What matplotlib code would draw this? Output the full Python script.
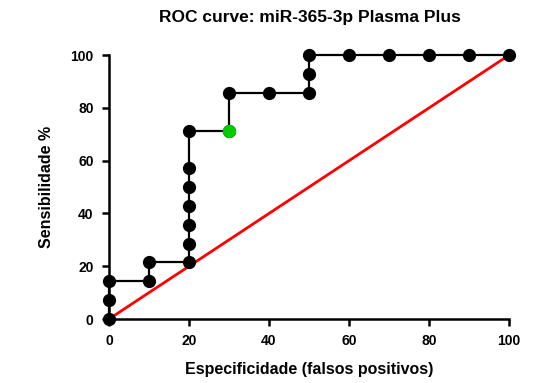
import matplotlib.pyplot as plt

# Dados da curva ROC (100% - especificidade vs sensibilidade)
fpr = [0, 0, 0, 10, 10, 20, 20, 20, 20, 20, 20, 20, 30, 30, 40, 50, 50, 50, 60, 70, 80, 90, 100]
sens = [0, 7.14, 14.29, 14.29, 21.43, 21.43, 28.57, 35.71, 42.86, 50.0, 57.14, 71.43,
        71.43, 85.71, 85.71, 85.71, 92.86, 100, 100, 100, 100, 100, 100]
cutoff_idx = 12  # ponto de corte destacado (verde)

diag_x = [0, 100]
diag_y = [0, 100]
ticks = [0, 20, 40, 60, 80, 100]

plt.rcParams['font.family'] = ['Liberation Sans', 'DejaVu Sans']
plt.rcParams['font.weight'] = 'bold'

fig = plt.figure(figsize=(5.35, 3.83), dpi=100)
ax = fig.add_axes([0.2037, 0.167, 0.7477, 0.689])

ax.plot(diag_x, diag_y, color='#ff0000', linewidth=2, zorder=2, clip_on=False)
ax.plot(fpr, sens, color='black', linewidth=1.6, drawstyle='default', zorder=3, clip_on=False)
ax.plot(fpr, sens, 'o', color='black', markersize=8.5, zorder=4, clip_on=False)
ax.plot(fpr[cutoff_idx], sens[cutoff_idx], 'o', color='#00cc00', markersize=8.5, zorder=5, clip_on=False)

ax.set_xlim(0, 100)
ax.set_ylim(0, 100)
ax.set_xticks(ticks)
ax.set_yticks(ticks)
ax.tick_params(direction='out', length=5, width=1.8, labelsize=10, pad=6)
for lab in ax.get_xticklabels() + ax.get_yticklabels():
    lab.set_fontweight('bold')
for s in ['top', 'right']:
    ax.spines[s].set_visible(False)
for s in ['left', 'bottom']:
    ax.spines[s].set_linewidth(1.8)

ax.set_xlabel('Especificidade (falsos positivos)', fontsize=11.5, fontweight='bold', labelpad=10)
ax.set_ylabel('Sensibilidade %', fontsize=11.5, fontweight='bold', labelpad=12)
fig.text(0.58, 0.955, 'ROC curve: miR-365-3p Plasma Plus', fontsize=12.5,
         fontweight='bold', ha='center', va='center')

fig.savefig('out.png', dpi=100)
